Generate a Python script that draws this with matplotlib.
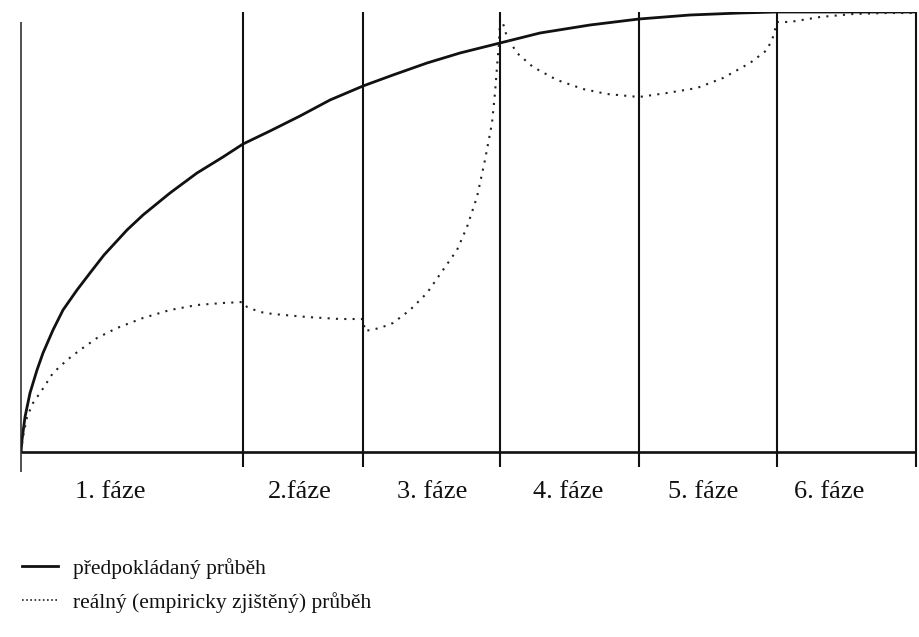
import matplotlib
matplotlib.use("Agg")
import matplotlib.pyplot as plt
from matplotlib.lines import Line2D

# hranice fází na ose x
phase_edges = [0, 222, 342, 479, 618, 756, 895]
phase_labels = ["1. fáze", "2.fáze", "3. fáze", "4. fáze", "5. fáze", "6. fáze"]
label_x = [89, 279, 411, 547, 682, 808]

# předpokládaný průběh (plná čára)
solid_x = [0, 1, 4, 9, 16, 22, 32, 42, 56, 69, 83, 106, 122, 149, 176, 202, 222,
           249, 279, 309, 342, 372, 406, 439, 479, 519, 569, 618, 669, 719, 756, 895]
solid_y = [0, 12, 35, 59, 82, 99, 122, 142, 162, 179, 197, 222, 237, 259, 279, 295, 308,
           321, 336, 352, 366, 377, 389, 399, 409, 419, 427, 433, 437, 439, 440, 440]

# reálný průběh (tečkovaná čára)
dot_x = [0, 2, 6, 12, 21, 32, 46, 59, 76, 96, 122, 149, 176, 202, 222, 226, 239, 252,
         286, 319, 342, 344, 359, 372, 389, 406, 422, 436, 446, 456, 464, 471, 474, 476,
         478, 479, 481, 486, 496, 512, 536, 562, 586, 618, 646, 676, 702, 729, 746, 752,
         756, 769, 799, 832, 866, 892]
dot_y = [0, 15, 35, 49, 62, 79, 92, 102, 114, 124, 134, 142, 147, 149, 150, 145, 140, 138,
         135, 133, 133, 121, 124, 129, 142, 159, 182, 202, 225, 255, 292, 329, 359, 385,
         409, 432, 432, 415, 399, 385, 372, 363, 358, 355, 359, 364, 374, 389, 402, 415,
         430, 430, 435, 438, 439, 439]

legend_labels = ["předpokládaný průběh", "reálný (empiricky zjištěný) průběh"]

plt.rcParams['font.family'] = ['Liberation Serif', 'DejaVu Serif']

fig = plt.figure(figsize=(9.19, 6.37), dpi=100)
W, H = 919, 637
ax = fig.add_axes([21 / W, (H - 452) / H, 895 / W, 440 / H])
ax.set_xlim(0, 895)
ax.set_ylim(0, 440)
ax.axis('off')

ax.plot(solid_x, solid_y, color='#111111', lw=2.0, solid_capstyle='round')
ax.plot(dot_x, dot_y, color='#222222', lw=1.5, linestyle=(0, (1, 3)))

# osy a dělicí čáry
ax.vlines(0, -20, 430, color='#222222', lw=1.1, clip_on=False)
ax.hlines(0, 0, 895, color='#111111', lw=1.9, clip_on=False)
ax.vlines(phase_edges[1:], -15, 440, color='#111111', lw=1.5, clip_on=False)

for x, lab in zip(label_x, phase_labels):
    ax.text(x, -40, lab, ha='center', va='center', fontsize=19, color='#111111')

handles = [Line2D([], [], color='#111111', lw=2.0),
           Line2D([], [], color='#222222', lw=1.2, linestyle=(0, (1, 1.5)))]
fig.legend(handles, legend_labels, loc='upper left', bbox_to_anchor=(22 / W, (H - 558) / H),
           frameon=False, fontsize=15.5, handlelength=1.65, handletextpad=0.7,
           labelspacing=0.6, borderaxespad=0, borderpad=0, labelcolor='#111111')

fig.savefig('out.png', dpi=100, facecolor='white')
